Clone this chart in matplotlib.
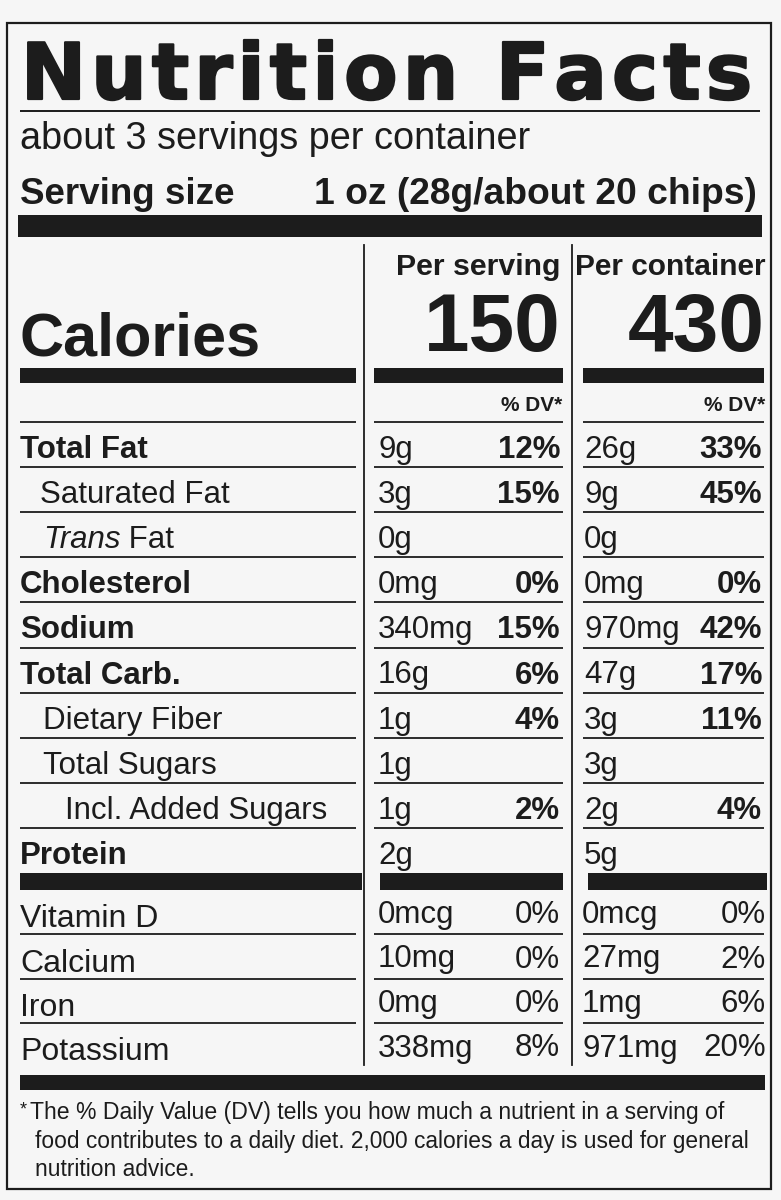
import matplotlib
matplotlib.use("Agg")
import matplotlib.pyplot as plt
import matplotlib.patheffects as pe
from matplotlib.patches import Rectangle

# ---- label content ----
title = "Nutrition Facts"
servings_text = "about 3 servings per container"
serving_size = "1 oz (28g/about 20 chips)"
calories_serving = "150"
calories_container = "430"

nutrients = ["Total Fat", "Saturated Fat", "Trans Fat", "Cholesterol", "Sodium",
             "Total Carb.", "Dietary Fiber", "Total Sugars", "Incl. Added Sugars", "Protein"]
serv_amt = ["9g", "3g", "0g", "0mg", "340mg", "16g", "1g", "1g", "1g", "2g"]
serv_dv = ["12%", "15%", "", "0%", "15%", "6%", "4%", "", "2%", ""]
cont_amt = ["26g", "9g", "0g", "0mg", "970mg", "47g", "3g", "3g", "2g", "5g"]
cont_dv = ["33%", "45%", "", "0%", "42%", "17%", "11%", "", "4%", ""]
bold_rows = [0, 3, 4, 5, 9]
indent = [0, 20, 23, 0, 0, 0, 23, 23, 45, 0]

vitamins = ["Vitamin D", "Calcium", "Iron", "Potassium"]
vit_serv_amt = ["0mcg", "10mg", "0mg", "338mg"]
vit_serv_dv = ["0%", "0%", "0%", "8%"]
vit_cont_amt = ["0mcg", "27mg", "1mg", "971mg"]
vit_cont_dv = ["0%", "2%", "6%", "20%"]

footnote = ["The % Daily Value (DV) tells you how much a nutrient in a serving of",
            "food contributes to a daily diet. 2,000 calories a day is used for general",
            "nutrition advice."]

INK = "#1c1c1c"
FONT = ["Liberation Sans", "DejaVu Sans"]

fig = plt.figure(figsize=(7.81, 12), dpi=100, facecolor="#f6f6f6")
ax = fig.add_axes([0, 0, 1, 1])
ax.set_xlim(0, 781)
ax.set_ylim(1200, 0)
ax.axis("off")
ax.set_facecolor("#f6f6f6")
renderer = fig.canvas.get_renderer()


def bar(x0, x1, y0, y1):
    ax.add_patch(Rectangle((x0, y0), x1 - x0, y1 - y0, color=INK, lw=0))


def hline(y, x0, x1, lw=1.3):
    ax.plot([x0, x1], [y, y], color=INK, lw=lw, solid_capstyle="butt")


def txt(x, y, s, size, bold=False, ha="left", italic=False):
    return ax.text(x, y, s, fontsize=size, family=FONT, color=INK, ha=ha, va="baseline",
                   fontweight="bold" if bold else "normal",
                   fontstyle="italic" if italic else "normal")


# outer border
ax.add_patch(Rectangle((7, 23), 764, 1166, fill=False, ec=INK, lw=1.6))

# title with wide letter spacing, thickened a little
chars = [ax.text(0, 99, c, fontsize=56, family="DejaVu Sans", fontweight="heavy",
                 color=INK, ha="left", va="baseline",
                 path_effects=[pe.withStroke(linewidth=1.6, foreground=INK)]) for c in title]
widths = [c.get_window_extent(renderer).width for c in chars]
gap = (752 - 21 - sum(widths)) / (len(chars) - 1)
x = 21
for c, w in zip(chars, widths):
    c.set_x(x)
    x += w + gap
hline(111, 20, 760, lw=1.4)

txt(20, 149, servings_text, 27.3)
txt(20, 204, "Serving size", 26.5, bold=True)
txt(757, 204, serving_size, 26.8, bold=True, ha="right")
bar(18, 762, 215, 237)

# column dividers
V1, V2 = 364, 572
ax.plot([V1, V1], [245, 1065], color=INK, lw=1.3)
ax.plot([V2, V2], [245, 1065], color=INK, lw=1.3)
cols = [(20, 356), (374, 563), (583, 764)]

txt(560, 275, "Per serving", 21.8, bold=True, ha="right")
txt(766, 275, "Per container", 21.5, bold=True, ha="right")
txt(20, 356, "Calories", 44, bold=True)
txt(561, 351, calories_serving, 59, bold=True, ha="right")
txt(765, 351, calories_container, 59, bold=True, ha="right")
for x0, x1 in cols:
    bar(x0, x1, 368, 383)
txt(562, 411, "% DV*", 15, bold=True, ha="right")
txt(765, 411, "% DV*", 15, bold=True, ha="right")

# main nutrient rows
top, step = 422, 45.1
for x0, x1 in cols:
    hline(top, x0, x1)
for i, name in enumerate(nutrients):
    base = top + step * i + 36
    b = i in bold_rows
    if name == "Trans Fat":
        t = txt(20 + indent[i], base, "Trans", 22.5, italic=True)
        w = t.get_window_extent(renderer).width
        txt(20 + indent[i] + w, base, " Fat", 22.5)
    else:
        txt(20 + indent[i], base, name, 22.5, bold=b)
    txt(378, base, serv_amt[i], 22.5)
    txt(560, base, serv_dv[i], 22.5, bold=True, ha="right")
    txt(584, base, cont_amt[i], 22.5)
    txt(762, base, cont_dv[i], 22.5, bold=True, ha="right")
    if i < len(nutrients) - 1:
        for x0, x1 in cols:
            hline(top + step * (i + 1), x0, x1)

ybar = top + step * len(nutrients)
bar(20, 362, ybar, ybar + 17)
bar(380, 563, ybar, ybar + 17)
bar(588, 767, ybar, ybar + 17)

# vitamins and minerals
vtop = ybar + 17
for i, name in enumerate(vitamins):
    base = vtop + 37 + 44.5 * i
    txt(20, base, name, 23)
    txt(378, base - 4, vit_serv_amt[i], 22.5)
    txt(560, base - 4, vit_serv_dv[i], 22.5, ha="right")
    txt(582, base - 4, vit_cont_amt[i], 22.5)
    txt(766, base - 4, vit_cont_dv[i], 22.5, ha="right")
    if i < len(vitamins) - 1:
        for x0, x1 in cols:
            hline(vtop + 44 + 44.5 * i, x0, x1)

bar(20, 765, 1075, 1090)

# footnote (asterisk raised and small)
txt(20, 1114, "*", 13)
txt(30, 1119, footnote[0], 16.6)
txt(35, 1148, footnote[1], 16.4)
txt(35, 1176, footnote[2], 16.4)

fig.savefig("out.png", dpi=100, facecolor=fig.get_facecolor())
